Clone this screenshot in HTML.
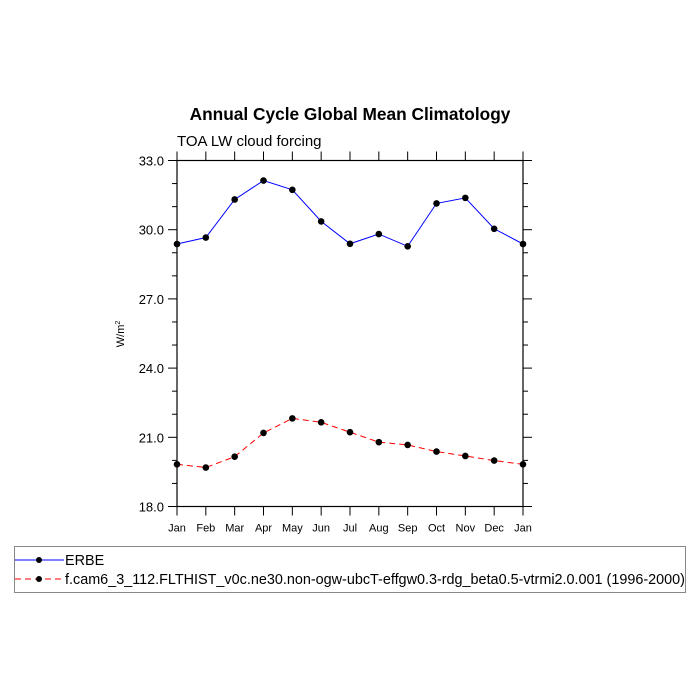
<!DOCTYPE html>
<html><head><meta charset="utf-8"><style>body{margin:0;background:#fff}svg{display:block}text{font-family:"Liberation Sans",sans-serif}</style></head>
<body>
<svg id="chart" width="700" height="700" xmlns="http://www.w3.org/2000/svg">
<text x="350" y="120" text-anchor="middle" font-size="17.3" font-weight="bold">Annual Cycle Global Mean Climatology</text>
<text x="177" y="146" font-size="15">TOA LW cloud forcing</text>
<text transform="translate(124,334) rotate(-90)" text-anchor="middle" font-size="11">W/m<tspan font-size="7" dy="-4">2</tspan></text>
<g id="axes"></g>
<g id="series"></g>
<g>
<rect x="14.5" y="546.5" width="671" height="46" fill="none" stroke="#888" stroke-width="1"/>
<g>
<line x1="15" y1="560" x2="64" y2="560" stroke="blue" stroke-width="1"/><circle cx="39" cy="560" r="3" fill="#000"/>
<text x="65" y="565" font-size="14.4">ERBE</text></g>
<g>
<line x1="15" y1="579" x2="64" y2="579" stroke="red" stroke-width="1" stroke-dasharray="6,4"/><circle cx="39" cy="579" r="3" fill="#000"/>
<text x="65" y="584" font-size="14.4">f.cam6_3_112.FLTHIST_v0c.ne30.non-ogw-ubcT-effgw0.3-rdg_beta0.5-vtrmi2.0.001 (1996-2000)</text></g>
</g>
</svg>
<script>
const months=["Jan","Feb","Mar","Apr","May","Jun","Jul","Aug","Sep","Oct","Nov","Dec","Jan"];
const erbe=[29.38,29.66,31.31,32.13,31.73,30.36,29.39,29.81,29.28,31.14,31.38,30.04,29.38];
const model=[19.83,19.69,20.16,21.19,21.82,21.65,21.22,20.79,20.67,20.38,20.19,19.99,19.83];
const yTicks=[18,21,24,27,30,33];
const yTickLabels=["18.0","21.0","24.0","27.0","30.0","33.0"];
const NS="http://www.w3.org/2000/svg";
const L=177,R=523,T=160.5,B=506.5,ymin=18,ymax=33;
const xs=i=>L+(R-L)*i/(months.length-1);
const ys=v=>B-(B-T)*(v-ymin)/(ymax-ymin);
function mk(tag,at,parent){const e=document.createElementNS(NS,tag);for(const k in at)e.setAttribute(k,at[k]);parent.appendChild(e);return e;}
const ax=document.getElementById('axes');
const fr=mk('rect',{x:L,y:T,width:R-L,height:B-T,fill:'none',stroke:'#000','stroke-width':1.2},ax);


for(let v=ymin;v<=ymax;v++){const maj=(v-ymin)%3===0;const len=maj?9:5;const y=ys(v);
 mk('line',{x1:L-len,y1:y,x2:L,y2:y,stroke:'#000'},ax);
 mk('line',{x1:R,y1:y,x2:R+len,y2:y,stroke:'#000'},ax);}
yTicks.forEach((v,i)=>{const t=mk('text',{x:L-13,y:ys(v)+5,'text-anchor':'end','font-size':13},ax);t.textContent=yTickLabels[i];
 
 });
months.forEach((m,i)=>{const x=xs(i);
 mk('line',{x1:x,y1:B,x2:x,y2:B+9,stroke:'#000'},ax);
 mk('line',{x1:x,y1:T-9,x2:x,y2:T,stroke:'#000'},ax);
 const t=mk('text',{x:x,y:B+25,'text-anchor':'middle','font-size':11},ax);t.textContent=m;
 
 });
const sg=document.getElementById('series');
function series(data,color,dash,name){const g=mk('g',{},sg);
 
 
 const at={points:data.map((v,i)=>xs(i)+','+ys(v)).join(' '),fill:'none',stroke:color,'stroke-width':1};
 if(dash)at['stroke-dasharray']=dash;mk('polyline',at,g);
 data.forEach((v,i)=>{const c=mk('circle',{cx:xs(i),cy:ys(v),r:3.3,fill:'#000'},g);
  
  });}
series(erbe,'blue',null,'series-erbe');
series(model,'red','6,4','series-model');
</script>
</body></html>
